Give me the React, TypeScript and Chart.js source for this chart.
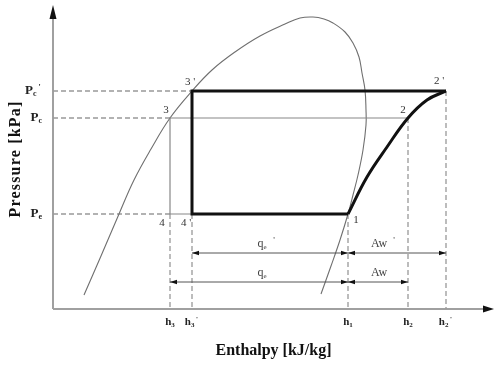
import React, { useEffect, useRef } from 'react';
import { Chart, registerables } from 'chart.js';

Chart.register(...registerables);

// ---- axis ranges (enthalpy / pressure, arbitrary units) ----
const X_MIN = 100;
const X_MAX = 541;
const P_MIN = 0;
const P_MAX = 1520;

// ---- cycle state points ----
const STATE_NAMES = ['1', '2', "2'", '3', "3'", '4', "4'"];
const STATE_H = [395, 455, 493, 217, 239, 217, 239];
const STATE_P = [475, 955, 1090, 955, 1090, 475, 475];

// ---- tick labels ----
const H_TICK_SUB = ['3', "3'", '1', '2', "2'"];
const H_TICKS = [217, 239, 395, 455, 493];
const P_TICK_SUB = ['e', 'c', "c'"];
const P_TICKS = [475, 955, 1090];

// ---- saturation dome ----
const DOME_H = [131, 148, 166, 181, 198, 217, 239, 259, 282, 307, 332, 347, 360, 371, 380, 392, 400, 406, 409, 412, 413, 413, 410, 405, 400, 395, 387, 378, 368];
const DOME_P = [70, 265, 475, 645, 800, 955, 1090, 1195, 1285, 1365, 1425, 1455, 1460, 1450, 1430, 1385, 1330, 1260, 1180, 1095, 995, 920, 795, 670, 570, 475, 345, 215, 75];

// ---- compression 1 -> 2' ----
const COMP_H = [395, 414, 434, 455, 474, 493];
const COMP_P = [475, 660, 810, 955, 1045, 1090];

// ---- dimension rows: q_e' / Aw' and q_e / Aw ----
const DIM_P = [280, 135];
const DIM_LEFT = [239, 217];
const DIM_MID = [395, 395];
const DIM_RIGHT = [493, 455];
const DIM_PRIME = [true, false];

const SERIF = '"Liberation Serif", "Times New Roman", serif';

const st = (name: string) => {
  const i = STATE_NAMES.indexOf(name);
  return { x: STATE_H[i], y: STATE_P[i] };
};

function arrowHead(ctx: CanvasRenderingContext2D, tx: number, ty: number, dx: number, dy: number, len: number, hw: number) {
  const bx = tx - dx * len;
  const by = ty - dy * len;
  const nx = -dy;
  const ny = dx;
  ctx.beginPath();
  ctx.moveTo(tx, ty);
  ctx.lineTo(bx + nx * hw, by + ny * hw);
  ctx.lineTo(bx - nx * hw, by - ny * hw);
  ctx.closePath();
  ctx.fill();
}

function subText(
  ctx: CanvasRenderingContext2D,
  base: string,
  sub: string,
  x: number,
  y: number,
  baseFont: string,
  subFont: string,
  align: 'left' | 'center' | 'right',
  subDy: number
) {
  const prime = sub.includes("'");
  const subCore = sub.replace("'", '');
  ctx.font = baseFont;
  const wb = ctx.measureText(base).width;
  const wp = prime ? ctx.measureText(" '").width * 0.8 : 0;
  ctx.font = subFont;
  const ws = ctx.measureText(subCore).width;
  const total = wb + ws + wp;
  let sx = x;
  if (align === 'center') sx = x - total / 2;
  if (align === 'right') sx = x - total;
  ctx.textAlign = 'left';
  ctx.textBaseline = 'middle';
  ctx.font = baseFont;
  ctx.fillText(base, sx, y);
  ctx.font = subFont;
  ctx.fillText(subCore, sx + wb, y + subDy);
  if (prime) {
    ctx.font = subFont;
    ctx.fillText("'", sx + wb + ws + wp * 0.35, y - 3);
  }
}

const LABEL_OFFSETS: Record<string, [number, number]> = {
  "3'": [-2, -9],
  '3': [-4, -8],
  "2'": [-7, -10],
  '2': [-5, -8],
  '1': [8, 6],
  '4': [-8, 9],
  "4'": [-6, 9],
};

const annotPlugin = {
  id: 'annot',
  beforeDatasetsDraw(chart: any) {
    const { ctx, chartArea } = chart;
    ctx.save();
    ctx.strokeStyle = '#a0a0a0';
    ctx.lineWidth = 2;
    ctx.beginPath();
    ctx.moveTo(chartArea.left, chartArea.bottom);
    ctx.lineTo(chartArea.left, chartArea.top + 6);
    ctx.moveTo(chartArea.left, chartArea.bottom);
    ctx.lineTo(chartArea.right - 6, chartArea.bottom);
    ctx.stroke();
    ctx.fillStyle = '#111';
    arrowHead(ctx, chartArea.left, chartArea.top, 0, -1, 14, 3.5);
    arrowHead(ctx, chartArea.right, chartArea.bottom, 1, 0, 11, 3.5);
    ctx.restore();
  },
  afterDatasetsDraw(chart: any) {
    const { ctx, chartArea } = chart;
    const xs = chart.scales.x;
    const ys = chart.scales.y;
    const px = (v: number) => xs.getPixelForValue(v);
    const py = (v: number) => ys.getPixelForValue(v);
    ctx.save();

    // dimension arrowheads
    ctx.fillStyle = '#111';
    DIM_P.forEach((p, i) => {
      const y = py(p);
      arrowHead(ctx, px(DIM_LEFT[i]), y, -1, 0, 7, 2.3);
      arrowHead(ctx, px(DIM_MID[i]), y, 1, 0, 7, 2.3);
      arrowHead(ctx, px(DIM_MID[i]), y, -1, 0, 7, 2.3);
      arrowHead(ctx, px(DIM_RIGHT[i]), y, 1, 0, 7, 2.3);
    });

    // dimension labels
    ctx.fillStyle = '#444';
    const qx = (px(DIM_LEFT[1]) + px(DIM_MID[1])) / 2 + 3;
    const ax = (px(DIM_MID[1]) + px(DIM_RIGHT[1])) / 2;
    DIM_P.forEach((p, i) => {
      const y = py(p) - 9;
      subText(ctx, 'q', 'e', qx, y, `12px ${SERIF}`, `7px ${SERIF}`, 'center', 3);
      ctx.font = `12px ${SERIF}`;
      ctx.textAlign = 'center';
      ctx.textBaseline = 'middle';
      ctx.fillText('Aw', ax + 1, y);
      if (DIM_PRIME[i]) {
        ctx.font = `9px ${SERIF}`;
        ctx.fillText("'", qx + 12, y - 3);
        ctx.fillText("'", ax + 16, y - 3);
      }
    });

    // state point labels
    ctx.fillStyle = '#333';
    ctx.font = `11px ${SERIF}`;
    ctx.textAlign = 'center';
    ctx.textBaseline = 'middle';
    STATE_NAMES.forEach((n, i) => {
      const off = LABEL_OFFSETS[n];
      const text = n.includes("'") ? n.replace("'", " '") : n;
      ctx.fillText(text, px(STATE_H[i]) + off[0], py(STATE_P[i]) + off[1]);
    });

    // enthalpy tick labels
    ctx.fillStyle = '#222';
    H_TICKS.forEach((h, i) => {
      subText(ctx, 'h', H_TICK_SUB[i], px(h), chartArea.bottom + 13, `bold 11px ${SERIF}`, `bold 7px ${SERIF}`, 'center', 3);
    });

    // pressure tick labels
    P_TICKS.forEach((p, i) => {
      subText(ctx, 'P', P_TICK_SUB[i], chartArea.left - 11, py(p), `bold 13px ${SERIF}`, `bold 8px ${SERIF}`, 'right', 3);
    });

    // axis titles
    ctx.fillStyle = '#111';
    ctx.font = `bold 16px ${SERIF}`;
    ctx.textAlign = 'center';
    ctx.textBaseline = 'middle';
    ctx.fillText('Enthalpy [kJ/kg]', (chartArea.left + chartArea.right) / 2, chartArea.bottom + 42);
    ctx.save();
    ctx.translate(16, (chartArea.top + chartArea.bottom) / 2 + 2);
    ctx.rotate(-Math.PI / 2);
    (ctx as any).letterSpacing = '1.2px';
    ctx.fillText('Pressure [kPa]', 0, 0);
    ctx.restore();

    ctx.restore();
  },
};

export default function App() {
  const ref = useRef<HTMLCanvasElement | null>(null);

  useEffect(() => {
    document.body.style.margin = '0';
    if (!ref.current) return;

    const line = (pts: { x: number; y: number }[], color: string, width: number, extra: any = {}) => ({
      data: pts,
      borderColor: color,
      backgroundColor: color,
      borderWidth: width,
      pointRadius: 0,
      showLine: true,
      fill: false,
      tension: 0,
      clip: false,
      ...extra,
    });

    const dashed = (a: { x: number; y: number }, b: { x: number; y: number }) =>
      line([a, b], '#999', 1.3, { borderDash: [5, 3] });

    const datasets: any[] = [
      // thick cycle
      line([st('1'), st("4'"), st("3'"), st("2'")], '#111', 3),
      line(COMP_H.map((h, i) => ({ x: h, y: COMP_P[i] })), '#111', 3, { tension: 0.4 }),
      // thin cycle
      line([st('2'), st('3'), st('4'), st("4'")], '#888', 1.2),
      // dimension lines
      ...DIM_P.map((p, i) => line([{ x: DIM_LEFT[i], y: p }, { x: DIM_RIGHT[i], y: p }], '#555', 1)),
      // dome
      line(DOME_H.map((h, i) => ({ x: h, y: DOME_P[i] })), '#6f6f6f', 1.1, { tension: 0.4 }),
      // dashed horizontals
      dashed({ x: X_MIN, y: P_TICKS[0] }, st('4')),
      dashed({ x: X_MIN, y: P_TICKS[1] }, st('3')),
      dashed({ x: X_MIN, y: P_TICKS[2] }, st("3'")),
      // dashed verticals
      dashed(st('4'), { x: H_TICKS[0], y: P_MIN }),
      dashed(st("4'"), { x: H_TICKS[1], y: P_MIN }),
      dashed(st('1'), { x: H_TICKS[2], y: P_MIN }),
      dashed(st('2'), { x: H_TICKS[3], y: P_MIN }),
      dashed(st("2'"), { x: H_TICKS[4], y: P_MIN }),
    ];

    const chart = new Chart(ref.current, {
      type: 'scatter',
      data: { datasets },
      options: {
        responsive: false,
        animation: false,
        devicePixelRatio: 1,
        layout: { padding: { left: 53, top: 5, right: 0, bottom: 56 } },
        plugins: { legend: { display: false }, tooltip: { enabled: false } },
        scales: {
          x: { type: 'linear', min: X_MIN, max: X_MAX, display: false },
          y: { type: 'linear', min: P_MIN, max: P_MAX, display: false },
        },
      },
      plugins: [annotPlugin],
    } as any);

    return () => chart.destroy();
  }, []);

  return (
    <div style={{ position: 'absolute', left: 0, top: 0, width: 494, height: 365, background: '#fff' }}>
      <canvas ref={ref} width={494} height={365} />
    </div>
  );
}
